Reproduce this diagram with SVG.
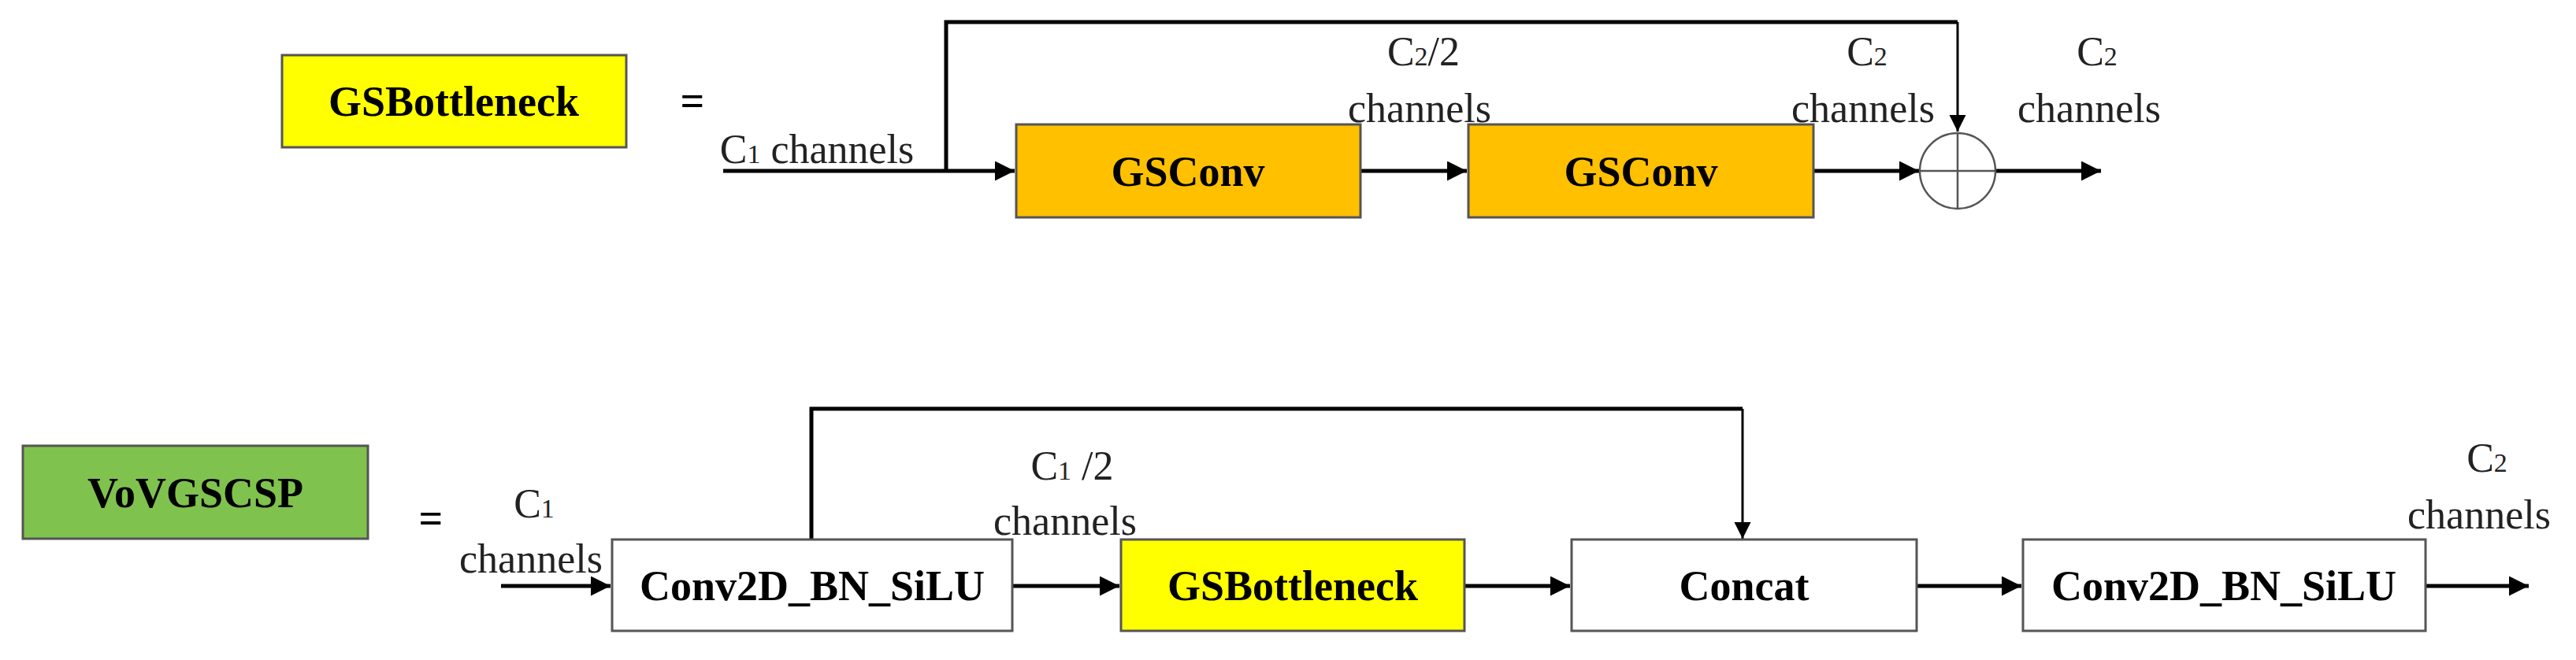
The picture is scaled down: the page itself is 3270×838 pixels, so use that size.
<svg xmlns="http://www.w3.org/2000/svg" width="3270" height="838" viewBox="0 0 3270 838">
<defs>
<style>
.lbl{font-family:"Liberation Serif","Times New Roman",serif;font-size:52px;fill:#222;text-anchor:middle}
.bold{font-family:"Liberation Serif","Times New Roman",serif;font-size:54px;font-weight:bold;fill:#000;text-anchor:middle}
.box{stroke:#555;stroke-width:3}
.ln{fill:none;stroke:#000;stroke-width:5}
.thin{fill:none;stroke:#000;stroke-width:3}
</style>
<marker id="ah" viewBox="0 0 10 10" refX="10" refY="5" markerWidth="5" markerHeight="5" orient="auto" markerUnits="strokeWidth"><path d="M0,0L10,5L0,10z" fill="#000"/></marker>
<marker id="ah2" viewBox="0 0 10 10" refX="10" refY="5" markerWidth="7" markerHeight="8" orient="auto" markerUnits="strokeWidth"><path d="M0,0L10,5L0,10z" fill="#000"/></marker>
</defs>
<g id="connectors">
<path class="ln" d="M918,217H1288" marker-end="url(#ah)"/>
<path class="ln" d="M1201,217V28H2485"/>
<path class="thin" d="M2485,28V167" marker-end="url(#ah2)"/>
<path class="ln" d="M1727,217H1862" marker-end="url(#ah)"/>
<path class="ln" d="M2302,217H2436" marker-end="url(#ah)"/>
<path class="ln" d="M2533,217H2667" marker-end="url(#ah)"/>
<path class="ln" d="M636,744H775" marker-end="url(#ah)"/>
<path class="ln" d="M1030,685V519H2212"/>
<path class="thin" d="M2212,519V684" marker-end="url(#ah2)"/>
<path class="ln" d="M1285,744H1421" marker-end="url(#ah)"/>
<path class="ln" d="M1859,744H1993" marker-end="url(#ah)"/>
<path class="ln" d="M2433,744H2566" marker-end="url(#ah)"/>
<path class="ln" d="M3079,744H3210" marker-end="url(#ah)"/>
</g>
<g id="gsbottleneck-title"><rect class="box" x="358" y="70" width="437" height="117" fill="#FFFF00"/><text class="bold" x="576" y="147">GSBottleneck</text></g>
<text class="bold" x="879" y="146">=</text>
<g id="gsconv1"><rect class="box" x="1290" y="158" width="437" height="118" fill="#FFC000"/><text class="bold" x="1508" y="236">GSConv</text></g>
<g id="gsconv2"><rect class="box" x="1864" y="158" width="438" height="118" fill="#FFC000"/><text class="bold" x="2083" y="236">GSConv</text></g>
<g id="add"><circle cx="2485" cy="217" r="48" fill="#fff" stroke="#555" stroke-width="2.5"/><path d="M2437,217H2533M2485,169V265" stroke="#555" stroke-width="2.5"/></g>
<text class="lbl" x="1037" y="207">C<tspan font-size="34">1</tspan> channels</text>
<text class="lbl" x="1807" y="83">C<tspan font-size="34">2</tspan>/2</text>
<text class="lbl" x="1802" y="155">channels</text>
<text class="lbl" x="2370" y="83">C<tspan font-size="34">2</tspan></text>
<text class="lbl" x="2365" y="155">channels</text>
<text class="lbl" x="2662" y="83">C<tspan font-size="34">2</tspan></text>
<text class="lbl" x="2652" y="155">channels</text>
<g id="vovgscsp-title"><rect class="box" x="29" y="566" width="438" height="118" fill="#80C24E"/><text class="bold" x="248" y="644">VoVGSCSP</text></g>
<text class="bold" x="547" y="676">=</text>
<g id="conv1"><rect class="box" x="777" y="685" width="508" height="116" fill="#fff"/><text class="bold" x="1031" y="762">Conv2D_BN_SiLU</text></g>
<g id="gsb"><rect class="box" x="1423" y="685" width="436" height="116" fill="#FFFF00"/><text class="bold" x="1641" y="762">GSBottleneck</text></g>
<g id="concat"><rect class="box" x="1995" y="685" width="438" height="116" fill="#fff"/><text class="bold" x="2214" y="762">Concat</text></g>
<g id="conv2"><rect class="box" x="2568" y="685" width="511" height="116" fill="#fff"/><text class="bold" x="2823" y="762">Conv2D_BN_SiLU</text></g>
<text class="lbl" x="678" y="657">C<tspan font-size="34">1</tspan></text>
<text class="lbl" x="674" y="727">channels</text>
<text class="lbl" x="1361" y="609">C<tspan font-size="34">1</tspan> /2</text>
<text class="lbl" x="1352" y="679">channels</text>
<text class="lbl" x="3157" y="599">C<tspan font-size="34">2</tspan></text>
<text class="lbl" x="3147" y="671">channels</text>
</svg>
